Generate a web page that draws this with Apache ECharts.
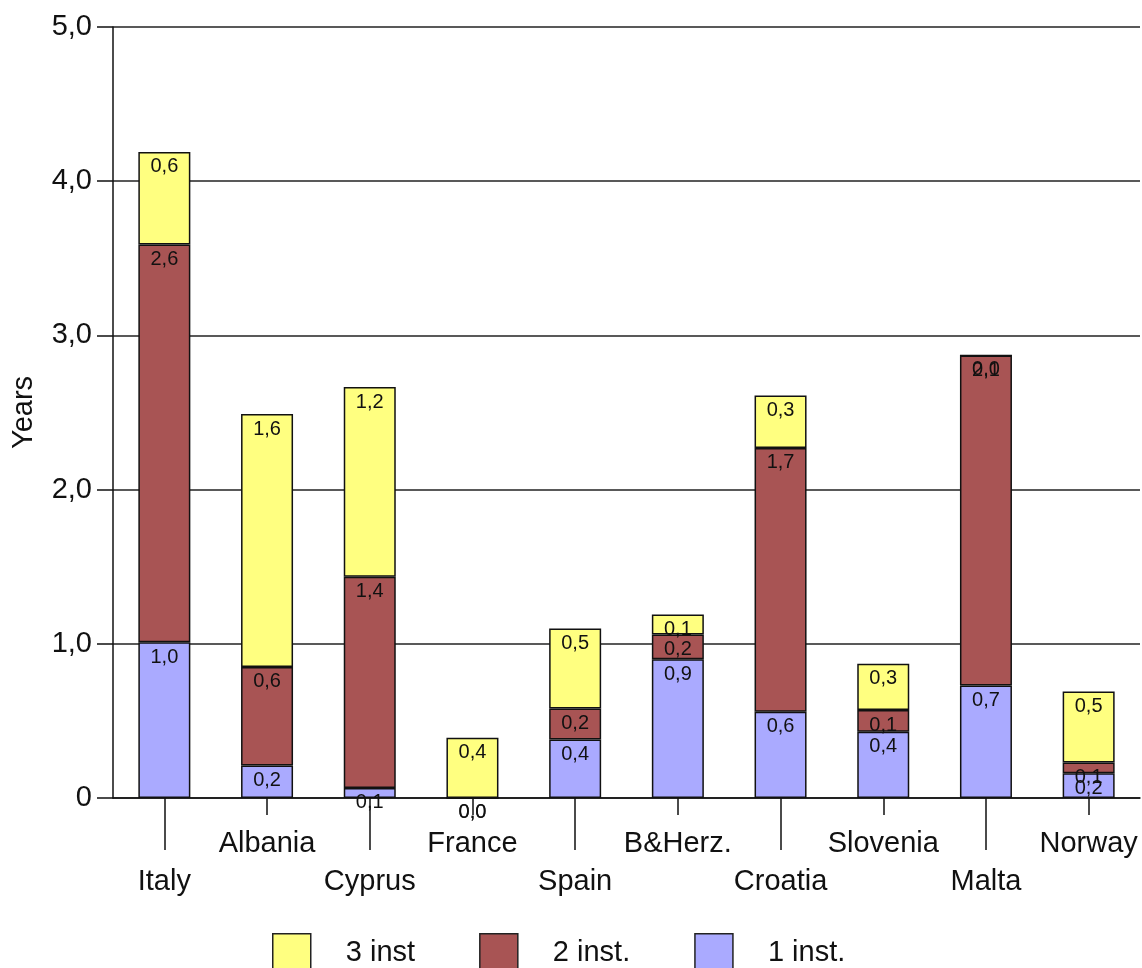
<!DOCTYPE html>
<html>
<head>
<meta charset="utf-8">
<script src="https://cdn.jsdelivr.net/npm/echarts@6/dist/echarts.min.js"></script>
<style>
html,body{margin:0;padding:0;background:#fff;}
#chart{width:1142px;height:968px;}
</style>
</head>
<body>
<div id="chart"></div>
<script>
var categories = ['Italy','Albania','Cyprus','France','Spain','B&Herz.','Croatia','Slovenia','Malta','Norway'];
var inst1 = [1.01, 0.21, 0.065, 0, 0.38, 0.90, 0.56, 0.43, 0.73, 0.16];
var inst2 = [2.58, 0.64, 1.37, 0, 0.20, 0.16, 1.71, 0.14, 2.14, 0.07];
var inst3 = [0.60, 1.64, 1.23, 0.39, 0.52, 0.13, 0.34, 0.30, 0, 0.46];
var yTicks = [0, 1, 2, 3, 4, 5];

var FONT = '"Liberation Sans", Arial, sans-serif';
function fmt(v){ return v.toFixed(1).replace('.', ','); }

function barSeries(name, data, color){
  return {
    name: name, type: 'bar', stack: 'total', data: data,
    xAxisIndex: 0, yAxisIndex: 0,
    barWidth: 52,
    itemStyle: { color: color, borderColor: '#111', borderWidth: 1.5 },
    label: {
      show: true, position: 'insideTop', distance: 5,
      color: '#111', fontSize: 20, fontFamily: FONT,
      formatter: function(p){ return fmt(p.value); }
    },
    emphasis: { disabled: true }
  };
}

var chart = echarts.init(document.getElementById('chart'));
chart.setOption({
  animation: false,
  backgroundColor: '#fff',
  grid: { left: 113, right: 2, top: 27, bottom: 170, containLabel: false, outerBoundsMode: 'none' },
  legend: {
    data: ['3 inst', '2 inst.', '1 inst.'],
    top: 933, left: 272, padding: 0,
    itemWidth: 38, itemHeight: 38, itemGap: 64,
    icon: 'rect',
    itemStyle: { borderColor: '#222', borderWidth: 1.5 },
    textStyle: { fontSize: 29, fontFamily: FONT, color: '#111', padding: [0, 0, 0, 30] },
    selectedMode: false
  },
  xAxis: [
    {
      type: 'category', data: categories, boundaryGap: true,
      axisLine: { show: true, lineStyle: { color: '#111', width: 1.5 } },
      axisTick: { show: true, alignWithLabel: true, length: 52,
        interval: function(i){ return i % 2 === 0; },
        lineStyle: { color: '#111', width: 1.5 } },
      axisLabel: {
        interval: 0, margin: 27, color: '#111', fontSize: 29, fontFamily: FONT,
        lineHeight: 38,
        formatter: function(v, i){ return i % 2 === 0 ? '\n' + v : v; }
      },
      splitLine: { show: false }
    },
    {
      type: 'category', data: categories, boundaryGap: true, position: 'bottom',
      axisLine: { show: false },
      axisTick: { show: true, alignWithLabel: true, length: 17,
        interval: function(i){ return i % 2 === 1; },
        lineStyle: { color: '#111', width: 1.5 } },
      axisLabel: { show: false },
      splitLine: { show: false }
    }
  ],
  yAxis: {
    type: 'value', min: 0, max: 5, interval: 1,
    name: 'Years', nameLocation: 'middle', nameGap: 75, nameRotate: 90,
    nameTextStyle: { fontSize: 29, fontFamily: FONT, color: '#111' },
    axisLine: { show: true, lineStyle: { color: '#111', width: 1.5 } },
    axisTick: { show: true, length: 16, lineStyle: { color: '#111', width: 1.5 } },
    axisLabel: {
      margin: 21, color: '#111', fontSize: 29, fontFamily: FONT,
      formatter: function(v){ return v === 0 ? '0' : fmt(v); },
      customValues: yTicks
    },
    splitLine: { show: true, lineStyle: { color: '#222', width: 1.5 } }
  },
  series: [
    barSeries('1 inst.', inst1, '#AAAAFF'),
    barSeries('2 inst.', inst2, '#A85454'),
    barSeries('3 inst', inst3, '#FFFF80')
  ]
});
</script>
</body>
</html>
